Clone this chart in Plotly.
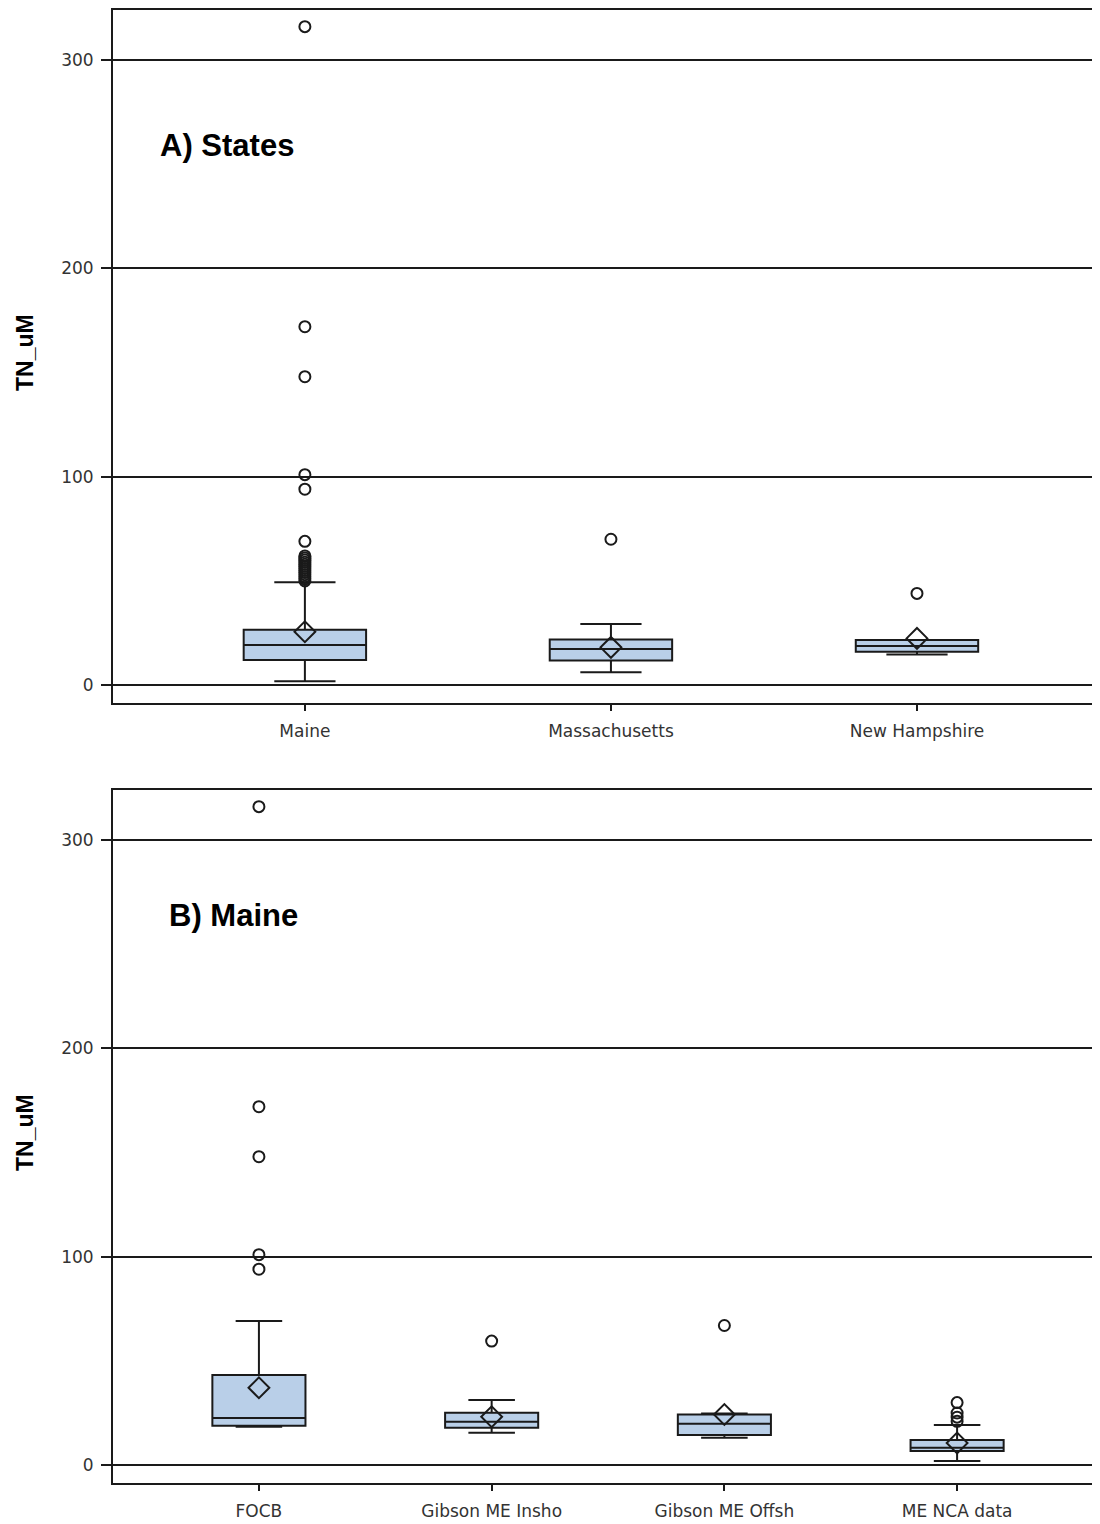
import plotly.graph_objects as go

# ---------------- data ----------------
states = ["Maine", "Massachusetts", "New Hampshire"]
states_q1 = [12.0, 11.8, 16.0]
states_median = [19.2, 17.3, 18.7]
states_q3 = [26.5, 21.9, 21.6]
states_lower = [1.8, 6.1, 14.7]
states_upper = [49.3, 29.3, 21.6]
states_mean = [25.6, 18.1, 22.4]
maine_outliers = [316, 172, 148, 101, 94, 69, 62, 61, 60, 59, 58, 57, 56, 55, 54, 53, 52, 51, 50]
mass_outliers = [70]
nh_outliers = [44]

sources = ["FOCB", "Gibson ME Insho", "Gibson ME Offsh", "ME NCA data"]
src_q1 = [18.9, 17.9, 14.4, 6.7]
src_median = [22.6, 20.8, 19.8, 8.3]
src_q3 = [43.2, 25.1, 24.3, 12.0]
src_lower = [18.4, 15.5, 13.1, 1.9]
src_upper = [69.1, 31.2, 24.8, 19.2]
src_mean = [37.1, 23.2, 24.3, 10.6]
focb_outliers = [316, 172, 148, 101, 94]
insho_outliers = [59.5]
offsh_outliers = [67]
nca_outliers = [30, 25, 23, 21]

y_ticks = [0, 100, 200, 300]

# ---------------- styling ----------------
BOX_FILL = "#b9cfe8"
LINE = "#1a1a1a"
TICK_FONT = dict(family="DejaVu Sans", size=17, color="#333333")

fig = go.Figure()


def add_panel(cats, q1, med, q3, lo, hi, mean, outlier_lists, xa, ya):
    fig.add_trace(go.Box(
        x=cats, q1=q1, median=med, q3=q3, lowerfence=lo, upperfence=hi,
        boxpoints=False, width=0.4, whiskerwidth=0.5,
        fillcolor=BOX_FILL, line=dict(color=LINE, width=2),
        xaxis=xa, yaxis=ya, showlegend=False, hoverinfo="skip"))
    ox, oy = [], []
    for c, vals in zip(cats, outlier_lists):
        ox += [c] * len(vals)
        oy += vals
    fig.add_trace(go.Scatter(
        x=ox, y=oy, mode="markers", xaxis=xa, yaxis=ya, showlegend=False,
        marker=dict(symbol="circle-open", size=11, color=LINE, line=dict(width=2))))
    fig.add_trace(go.Scatter(
        x=cats, y=mean, mode="markers", xaxis=xa, yaxis=ya, showlegend=False,
        marker=dict(symbol="diamond-open", size=16, color=LINE, line=dict(width=2))))


add_panel(states, states_q1, states_median, states_q3, states_lower, states_upper,
          states_mean, [maine_outliers, mass_outliers, nh_outliers], "x", "y")
add_panel(sources, src_q1, src_median, src_q3, src_lower, src_upper,
          src_mean, [focb_outliers, insho_outliers, offsh_outliers, nca_outliers], "x2", "y2")

# page places the figure 8px from the top-left corner
OFF = 8
W, H = 1100 - OFF, 1524 - OFF
x_dom = [(113 - OFF) / W, 1.0]
domA = [1 - (703 - OFF) / H, 1 - (10 - OFF) / H]
domB = [1 - (1483 - OFF) / H, 1 - (790 - OFF) / H]

xcommon = dict(type="category", showline=True, linecolor=LINE, linewidth=2, mirror=True,
               ticks="outside", ticklen=6, tickcolor=LINE, tickwidth=1.5,
               tickfont=TICK_FONT, showgrid=False, zeroline=False, ticklabelstandoff=6,
               domain=x_dom)
ycommon = dict(range=[-8.6, 324], tickvals=y_ticks, showline=True, linecolor=LINE, linewidth=2,
               ticks="outside", ticklen=10, tickcolor=LINE, tickwidth=1.5,
               tickfont=TICK_FONT, showgrid=True, gridcolor=LINE, gridwidth=1.5,
               zeroline=False, ticklabelstandoff=4)

fig.update_layout(
    width=W, height=H,
    margin=dict(l=0, r=0, t=0, b=0),
    paper_bgcolor="white", plot_bgcolor="white",
    xaxis=dict(xcommon, anchor="y", categoryorder="array", categoryarray=states,
               range=[-0.627, 2.598]),
    yaxis=dict(ycommon, anchor="x", domain=domA),
    xaxis2=dict(xcommon, anchor="y2", categoryorder="array", categoryarray=sources,
                range=[-0.627, 3.614]),
    yaxis2=dict(ycommon, anchor="x2", domain=domB),
)

fig.add_annotation(text="<b>A) States</b>", xref="paper", yref="paper",
                   x=(158 - OFF) / W, y=1 - (145 - OFF) / H, xanchor="left", yanchor="middle",
                   showarrow=False, font=dict(family="Liberation Sans", size=31, color="black"))
fig.add_annotation(text="<b>B) Maine</b>", xref="paper", yref="paper",
                   x=(167 - OFF) / W, y=1 - (915 - OFF) / H, xanchor="left", yanchor="middle",
                   showarrow=False, font=dict(family="Liberation Sans", size=31, color="black"))
for yc in [353, 1133]:
    fig.add_annotation(text="<b>TN_uM</b>", xref="paper", yref="paper",
                       x=(25 - OFF) / W, y=1 - (yc - OFF) / H, xanchor="center", yanchor="middle",
                       showarrow=False, textangle=-90,
                       font=dict(family="Liberation Sans", size=23, color="black"))

fig.write_html("out.html")
